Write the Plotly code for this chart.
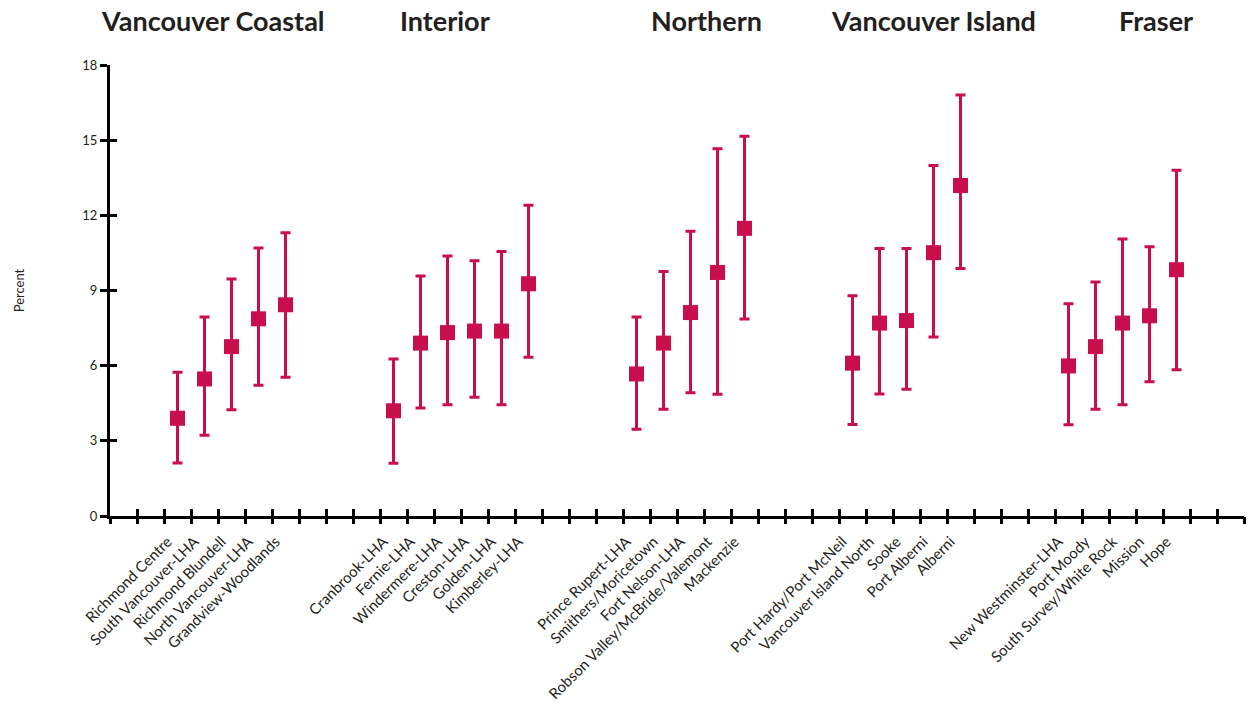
import plotly.graph_objects as go

# Health authority regions and the local areas shown under each
regions = ["Vancouver Coastal", "Interior", "Northern", "Vancouver Island", "Fraser"]

vancouver_coastal = ["Richmond Centre", "South Vancouver-LHA", "Richmond Blundell",
                     "North Vancouver-LHA", "Grandview-Woodlands"]
interior = ["Cranbrook-LHA", "Fernie-LHA", "Windermere-LHA", "Creston-LHA",
            "Golden-LHA", "Kimberley-LHA"]
northern = ["Prince Rupert-LHA", "Smithers/Moricetown", "Fort Nelson-LHA",
            "Robson Valley/McBride/Valemont", "Mackenzie"]
vancouver_island = ["Port Hardy/Port McNeil", "Vancouver Island North", "Sooke",
                    "Port Alberni", "Alberni"]
fraser = ["New Westminster-LHA", "Port Moody", "South Survey/White Rock",
          "Mission", "Hope"]

# Percent estimates with lower / upper confidence limits
vc_pct = [3.9, 5.47, 6.76, 7.87, 8.43]
vc_low = [2.12, 3.22, 4.24, 5.22, 5.54]
vc_high = [5.74, 7.94, 9.46, 10.7, 11.3]

int_pct = [4.2, 6.9, 7.32, 7.38, 7.38, 9.27]
int_low = [2.11, 4.31, 4.44, 4.74, 4.44, 6.34]
int_high = [6.27, 9.58, 10.38, 10.19, 10.56, 12.4]

nor_pct = [5.67, 6.9, 8.12, 9.72, 11.48]
nor_low = [3.46, 4.26, 4.92, 4.86, 7.86]
nor_high = [7.94, 9.76, 11.36, 14.66, 15.16]

vi_pct = [6.1, 7.7, 7.8, 10.51, 13.19]
vi_low = [3.65, 4.87, 5.06, 7.14, 9.88]
vi_high = [8.79, 10.68, 10.68, 13.99, 16.8]

fra_pct = [5.99, 6.76, 7.7, 7.99, 9.83]
fra_low = [3.64, 4.26, 4.44, 5.36, 5.84]
fra_high = [8.47, 9.34, 11.06, 10.75, 13.8]

y_ticks = [0, 3, 6, 9, 12, 15, 18]

groups = [
    (vancouver_coastal, vc_pct, vc_low, vc_high),
    (interior, int_pct, int_low, int_high),
    (northern, nor_pct, nor_low, nor_high),
    (vancouver_island, vi_pct, vi_low, vi_high),
    (fraser, fra_pct, fra_low, fra_high),
]

# Slot layout on the x axis: blank slots before, between and after the groups
LEAD, GAP, TRAIL = 2, 3, 2

names, xs, pct, err_plus, err_minus = [], [], [], [], []
slot = LEAD
for gi, (cats, p, lo, hi) in enumerate(groups):
    if gi > 0:
        slot += GAP
    for c, v, l, h in zip(cats, p, lo, hi):
        names.append(c)
        xs.append(slot)
        pct.append(v)
        err_plus.append(h - v)
        err_minus.append(v - l)
        slot += 1
n_slots = slot + TRAIL
boundaries = [i - 0.5 for i in range(n_slots + 1)]

RED = "#C80F4B"
INK = "#231F20"
FONT = "Lato"

fig = go.Figure()
fig.add_trace(go.Scatter(
    x=xs, y=pct, mode="markers",
    marker=dict(symbol="square", size=15, color=RED),
    error_y=dict(type="data", symmetric=False, array=err_plus, arrayminus=err_minus,
                 color=RED, thickness=3, width=5),
    showlegend=False, hoverinfo="skip",
))

x_range = [-0.5, n_slots - 0.5]
common_x = dict(range=x_range, showgrid=False, zeroline=False, fixedrange=True,
                automargin=False)

fig.update_layout(
    width=1250, height=702,
    margin=dict(l=110, r=6, t=65, b=186),
    paper_bgcolor="white", plot_bgcolor="white",
    font=dict(family=FONT, color=INK),
    xaxis=dict(**common_x, tickmode="array", tickvals=xs, ticktext=names,
               tickangle=-45, ticks="", ticklabelstandoff=8, ticklabelshift=-10,
               tickfont=dict(size=15, family=FONT, color=INK),
               showline=True, linecolor="black", linewidth=3),
    xaxis2=dict(**common_x, overlaying="x", matches="x", anchor="y", side="bottom",
                tickmode="array", tickvals=boundaries, ticks="outside", ticklen=7,
                tickwidth=3, tickcolor="black", showticklabels=False, showline=False),
    xaxis3=dict(**common_x, overlaying="x", matches="x", anchor="y", side="bottom",
                tickmode="array", tickvals=boundaries, ticks="inside", ticklen=7,
                tickwidth=3, tickcolor="black", showticklabels=False, showline=False),
    yaxis=dict(range=[0, 18], tickmode="array", tickvals=y_ticks,
               ticks="outside", ticklen=7, tickwidth=3, tickcolor="black",
               showline=True, linecolor="black", linewidth=3,
               showgrid=False, zeroline=False, fixedrange=True, automargin=False,
               tickfont=dict(size=13, family=FONT, color=INK),
               title=dict(text="Percent", font=dict(size=13, family=FONT, color=INK),
                          standoff=55)),
    yaxis2=dict(range=[0, 18], overlaying="y", matches="y", anchor="x", side="left",
                tickmode="array", tickvals=y_ticks, ticks="inside", ticklen=7,
                tickwidth=3, tickcolor="black", showticklabels=False, automargin=False,
                showline=False, showgrid=False, zeroline=False),
)

# Invisible carriers so the overlay axes are drawn
fig.add_trace(go.Scatter(x=xs, y=pct, xaxis="x2", yaxis="y2", mode="markers",
                         marker=dict(opacity=0), showlegend=False, hoverinfo="skip"))
fig.add_trace(go.Scatter(x=xs, y=pct, xaxis="x3", yaxis="y2", mode="markers",
                         marker=dict(opacity=0), showlegend=False, hoverinfo="skip"))

# Region headings above the groups
header_x = [3.3, 11.9, 21.6, 30.0, 38.25]
for name, hx in zip(regions, header_x):
    fig.add_annotation(x=hx, xref="x", y=1, yref="paper", yshift=45,
                       text=f"<b>{name}</b>", showarrow=False,
                       xanchor="center", yanchor="middle",
                       font=dict(size=27, family=FONT, color=INK))

fig.write_html("out.html")
